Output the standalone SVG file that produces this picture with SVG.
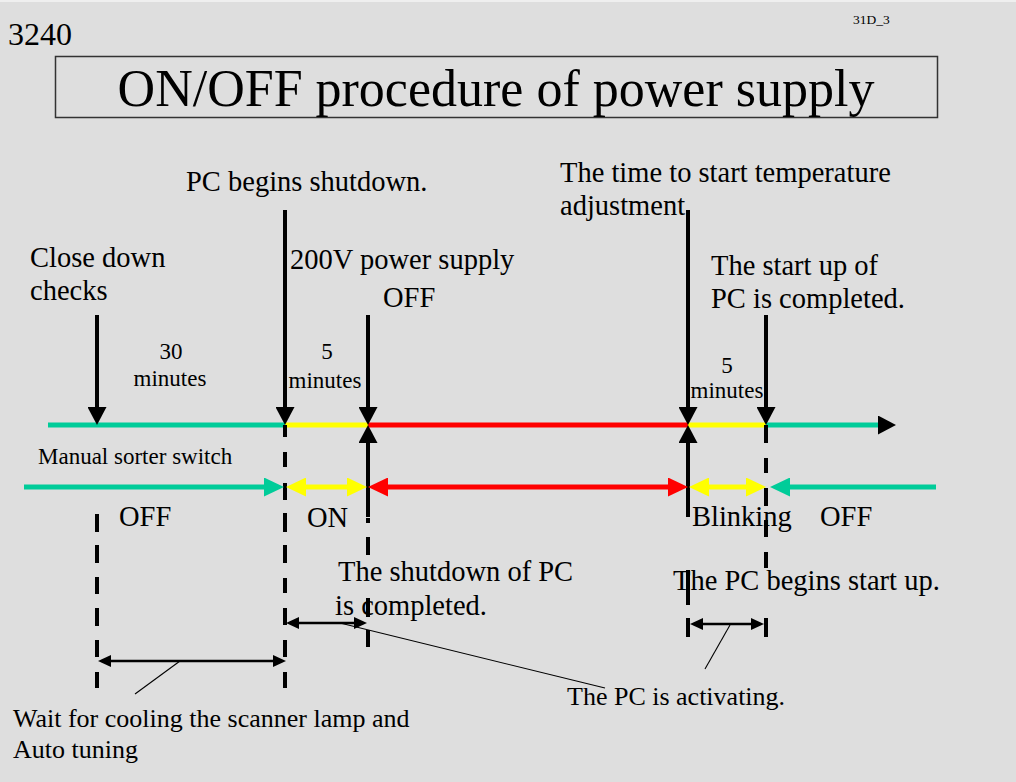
<svg xmlns="http://www.w3.org/2000/svg" width="1016" height="782" viewBox="0 0 1016 782">
<style>
.t{font-family:"Liberation Serif","Times New Roman",serif;fill:#000;}
.l{font-size:28.5px;}
.m{font-size:23px;}
.s{font-size:26px;}
.c{text-anchor:middle;}
.vk{stroke:#000;stroke-width:4;fill:none;}
.hz{stroke-width:5;fill:none;}
.dim{stroke:#000;stroke-width:2.5;fill:none;}
.lead{stroke:#000;stroke-width:1.1;fill:none;}
</style>
<defs>
<marker id="aG" viewBox="0 0 20 19" refX="8" refY="9.5" markerWidth="20" markerHeight="19" markerUnits="userSpaceOnUse" orient="auto-start-reverse"><path d="M0,0 L20,9.5 L0,19 z" fill="#00CC99"/></marker>
<marker id="aY" viewBox="0 0 20 19" refX="8" refY="9.5" markerWidth="20" markerHeight="19" markerUnits="userSpaceOnUse" orient="auto-start-reverse"><path d="M0,0 L20,9.5 L0,19 z" fill="#FFFF00"/></marker>
<marker id="aR" viewBox="0 0 20 19" refX="8" refY="9.5" markerWidth="20" markerHeight="19" markerUnits="userSpaceOnUse" orient="auto-start-reverse"><path d="M0,0 L20,9.5 L0,19 z" fill="#FF0000"/></marker>
<marker id="aK" viewBox="0 0 18 19" refX="8" refY="9.5" markerWidth="18" markerHeight="19" markerUnits="userSpaceOnUse" orient="auto-start-reverse"><path d="M0,0 L18,9.5 L0,19 z" fill="#000"/></marker>
<marker id="aS" viewBox="0 0 13 12" refX="5" refY="6" markerWidth="13" markerHeight="12" markerUnits="userSpaceOnUse" orient="auto-start-reverse"><path d="M0,0 L13,6 L0,12 z" fill="#000"/></marker>
</defs>
<rect x="0" y="0" width="1016" height="782" fill="#DEDEDE"/>
<rect x="0" y="0" width="1016" height="2" fill="#EFEFEF"/>

<g id="page-number"><text class="t" x="8" y="45" font-size="32">3240</text></g>
<g id="slide-code"><text class="t" x="853" y="24" font-size="13.5">31D_3</text></g>
<g id="title">
<rect x="55.5" y="56.5" width="882" height="61" fill="none" stroke="#333" stroke-width="1.5"/>
<text class="t c" x="496" y="106" font-size="52">ON/OFF procedure of power supply</text>
</g>

<g id="labels">
<g id="lbl-pc-begins-shutdown"><text class="t l" x="186" y="191">PC begins shutdown.</text></g>
<g id="lbl-close-down"><text class="t l" x="30" y="267">Close down</text><text class="t l" x="30" y="300">checks</text></g>
<g id="lbl-200v"><text class="t l" x="290" y="269">200V power supply</text><text class="t l" x="383" y="307">OFF</text></g>
<g id="lbl-temperature"><text class="t l" x="560" y="182">The time to start temperature</text><text class="t l" x="560" y="215">adjustment</text></g>
<g id="lbl-startup-completed"><text class="t l" x="711" y="275">The start up of</text><text class="t l" x="711" y="308">PC is completed.</text></g>
<g id="lbl-30min"><text class="t m c" x="171" y="359">30</text><text class="t m c" x="170" y="386">minutes</text></g>
<g id="lbl-5min-a"><text class="t m c" x="327" y="359">5</text><text class="t m c" x="325" y="388">minutes</text></g>
<g id="lbl-5min-b"><text class="t m c" x="727" y="373">5</text><text class="t m c" x="727" y="398">minutes</text></g>
<g id="lbl-manual"><text class="t m" x="38" y="464">Manual sorter switch</text></g>
<g id="lbl-off-1"><text class="t l" x="119" y="526">OFF</text></g>
<g id="lbl-on"><text class="t l" x="307" y="527">ON</text></g>
<g id="lbl-blinking"><text class="t l" x="692" y="526">Blinking</text></g>
<g id="lbl-off-2"><text class="t l" x="820" y="526">OFF</text></g>
<g id="lbl-shutdown-completed"><text class="t l" x="338" y="581">The shutdown of PC</text><text class="t l" x="335" y="615">is completed.</text></g>
<g id="lbl-pc-begins-startup"><text class="t l" x="673" y="590">The PC begins start up.</text></g>
<g id="lbl-activating"><text class="t s" x="567" y="705">The PC is activating.</text></g>
<g id="lbl-wait"><text class="t s" x="13" y="727">Wait for cooling the scanner lamp and</text><text class="t s" x="13" y="758">Auto tuning</text></g>
</g>

<g id="connectors">
<!-- main timeline -->
<line class="hz" x1="48" y1="425" x2="285" y2="425" stroke="#00CC99"/>
<line class="hz" x1="285" y1="425" x2="368" y2="425" stroke="#FFFF00"/>
<line class="hz" x1="368" y1="425" x2="688" y2="425" stroke="#FF0000"/>
<line class="hz" x1="688" y1="425" x2="766" y2="425" stroke="#FFFF00"/>
<line class="hz" x1="766" y1="425" x2="886" y2="425" stroke="#00CC99" marker-end="url(#aK)"/>
<!-- event arrows -->
<line class="vk" x1="97" y1="315" x2="97" y2="415" marker-end="url(#aK)"/>
<line class="vk" x1="285" y1="210" x2="285" y2="415" marker-end="url(#aK)"/>
<line class="vk" x1="368" y1="315" x2="368" y2="415" marker-end="url(#aK)"/>
<line class="vk" x1="688" y1="210" x2="688" y2="415" marker-end="url(#aK)"/>
<line class="vk" x1="766" y1="315" x2="766" y2="415" marker-end="url(#aK)"/>
<line class="vk" x1="368" y1="517" x2="368" y2="435" marker-end="url(#aK)"/>
<line class="vk" x1="688" y1="517" x2="688" y2="435" marker-end="url(#aK)"/>
<!-- dashed guides -->
<path class="vk" d="M97,514V532M97,545V563M97,577V594M97,608V626M97,640V657M97,672V688"/>
<path class="vk" d="M285,425V437M285,452V467M285,483V500M285,513V532M285,545V563M285,578V593M285,608V625M285,640V657M285,672V688"/>
<path class="vk" d="M368,518V523M368,537V555M368,598V617M368,630V647"/>
<path class="vk" d="M766,425V443M766,458V473M766,488V506M766,520V537M766,552V568"/>
<path class="vk" d="M688,570V605"/>
<!-- switch state arrows -->
<line class="hz" x1="24" y1="487" x2="272" y2="487" stroke="#00CC99" marker-end="url(#aG)"/>
<line class="hz" x1="298" y1="487" x2="355" y2="487" stroke="#FFFF00" marker-start="url(#aY)" marker-end="url(#aY)"/>
<line class="hz" x1="380" y1="487" x2="676" y2="487" stroke="#FF0000" marker-start="url(#aR)" marker-end="url(#aR)"/>
<line class="hz" x1="701" y1="487" x2="754" y2="487" stroke="#FFFF00" marker-start="url(#aY)" marker-end="url(#aY)"/>
<line class="hz" x1="936" y1="487" x2="782" y2="487" stroke="#00CC99" marker-end="url(#aG)"/>
<!-- duration dimensions -->
<line class="dim" x1="106" y1="661" x2="278" y2="661" marker-start="url(#aS)" marker-end="url(#aS)"/>
<line class="dim" x1="294" y1="623" x2="359" y2="623" marker-start="url(#aS)" marker-end="url(#aS)"/>
<line class="dim" x1="698" y1="624" x2="756" y2="624" marker-start="url(#aS)" marker-end="url(#aS)"/>
<path class="vk" d="M688,618V637M766,618V637"/>
<!-- leaders -->
<line class="lead" x1="180" y1="661" x2="135" y2="694"/>
<line class="lead" x1="340" y1="623" x2="605" y2="688"/>
<line class="lead" x1="730" y1="625" x2="705" y2="669"/>
</g>
</svg>
